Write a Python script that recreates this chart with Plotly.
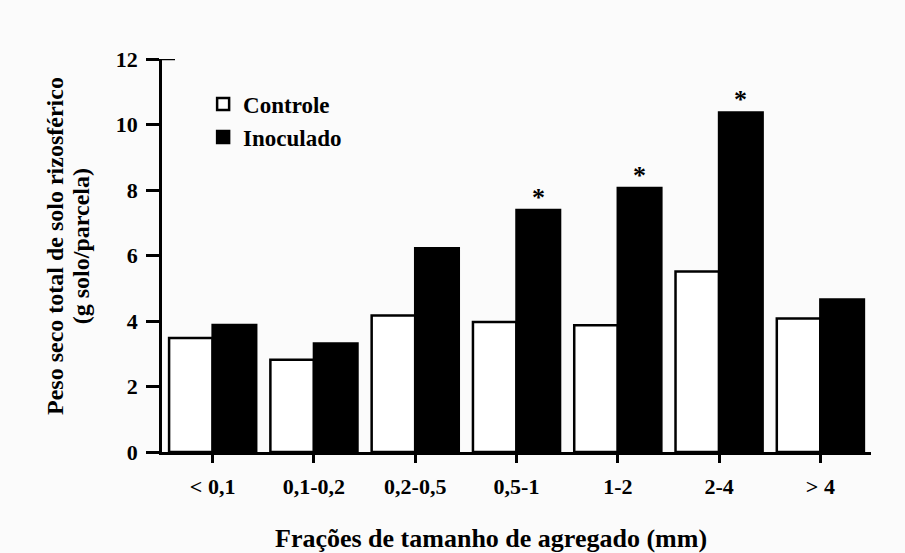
import plotly.graph_objects as go

categories = ["< 0,1", "0,1-0,2", "0,2-0,5", "0,5-1", "1-2", "2-4", "> 4"]
controle = [3.48, 2.82, 4.17, 3.97, 3.87, 5.51, 4.08]
inoculado = [3.88, 3.31, 6.22, 7.39, 8.06, 10.37, 4.66]
significant = [False, False, False, True, True, True, False]
yticks = [0, 2, 4, 6, 8, 10, 12]
ytitle_lines = ["Peso seco total de solo rizosférico", "(g solo/parcela)"]
xtitle = "Frações de tamanho de agregado (mm)"

FONT = "Liberation Serif"

fig = go.Figure()
fig.add_trace(go.Bar(
    x=categories, y=controle, name="Controle", legendgroup="c",
    marker=dict(color="white", line=dict(color="black", width=2.5)),
))
fig.add_trace(go.Bar(
    x=categories, y=inoculado, name="Inoculado", legendgroup="i",
    marker=dict(color="black", line=dict(color="black", width=2.5)),
))

for i, (v, s) in enumerate(zip(inoculado, significant)):
    if s:
        fig.add_annotation(
            x=i + 0.215, y=v, xref="x", yref="y", text="*", showarrow=False,
            yanchor="bottom", yshift=-4,
            font=dict(family=FONT, size=26, color="black", weight="bold"),
        )

fig.add_annotation(
    x=0.464, y=-0.22, xref="paper", yref="paper",
    text=xtitle, showarrow=False,
    xanchor="center", yanchor="middle",
    font=dict(family=FONT, size=26, color="black", weight="bold"),
)

# two-line y-axis title, as rotated annotations
for xp, line in zip([-0.151, -0.114], ytitle_lines):
    fig.add_annotation(
        x=xp, y=0.524, xref="paper", yref="paper", text=line, showarrow=False,
        textangle=-90, xanchor="center", yanchor="middle",
        font=dict(family=FONT, size=24, color="black", weight="bold"),
    )

# small cross of the top tick extending right of the axis
fig.add_shape(type="line", xref="paper", yref="y", x0=0, x1=13 / 709, y0=12, y1=12,
              line=dict(color="black", width=2.5))

fig.update_layout(
    width=905, height=553,
    margin=dict(l=162, r=34, t=59, b=101),
    paper_bgcolor="#fbfbfb", plot_bgcolor="#fbfbfb",
    barmode="group", bargap=0.14, bargroupgap=0,
    showlegend=True,
    legend=dict(
        x=0.058, y=0.94, xanchor="left", yanchor="top",
        bgcolor="rgba(0,0,0,0)", tracegroupgap=0,
        font=dict(family=FONT, size=23, color="black", weight="bold"),
    ),
    xaxis=dict(
        type="category", range=[-0.5, 6.5],
        showline=True, linecolor="black", linewidth=2.5,
        ticks="outside", ticklen=8, tickwidth=2.5, tickcolor="black",
        ticklabelstandoff=5,
        tickfont=dict(family=FONT, size=22, color="black", weight="bold"),
        showgrid=False, zeroline=False,
    ),
    yaxis=dict(
        range=[0, 12], tickvals=yticks, ticktext=[str(t) for t in yticks],
        showline=True, linecolor="black", linewidth=2.5,
        ticks="outside", ticklen=13, tickwidth=2.5, tickcolor="black",
        ticklabelstandoff=4,
        tickfont=dict(family=FONT, size=22, color="black", weight="bold"),
        showgrid=False, zeroline=False,
        automargin=False,
    ),
)

fig.write_html("out.html", config={"displayModeBar": False},
               post_script="document.body.style.margin='0';")
